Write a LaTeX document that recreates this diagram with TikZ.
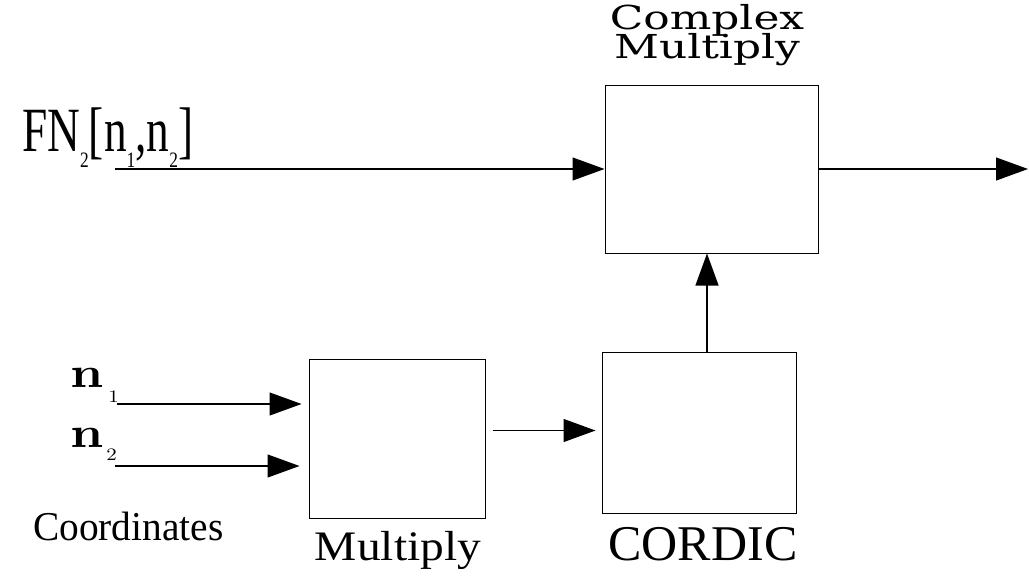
\documentclass[tikz,border=0pt]{standalone}
\usepackage[no-math]{fontspec}
\usepackage{graphicx}
\setmainfont{Liberation Serif}
\newfontfamily\blockfont{DejaVu Serif}
\usetikzlibrary{arrows.meta}
\newcommand{\lowidx}[1]{\raisebox{-16pt}{\scalebox{1.1}[1]{\fontsize{22}{22}\selectfont #1}}}
\newcommand{\nidx}[2]{\raisebox{#1}{\scalebox{2.1}[1.75]{$#2$}}}

\begin{document}
\begin{tikzpicture}[x=1pt,y=-1pt,
    blk/.style={draw, line width=1pt, inner sep=0pt},
    arr/.style={line width=1.2pt, -{Triangle[length=32pt,width=23pt]}},
    lab/.style={inner sep=0pt}]
  \useasboundingbox (0,0) rectangle (1029,584);

  % blocks
  \node[blk, minimum width=213pt, minimum height=168pt] (cplx) at (711.5,169) {};
  \node[blk, minimum width=176pt, minimum height=159pt] (mult) at (397,438.5) {};
  \node[blk, minimum width=194pt, minimum height=161pt] (cordic) at (699,432.5) {};

  % labels
  \node[lab, anchor=base, align=center, font={\blockfont\fontsize{33}{27}\selectfont}] (cplxlab) at (707,58)
    {\scalebox{1.33}[1]{Complex}\\[-4pt]\scalebox{1.33}[1]{Multiply}};
  \node[lab, anchor=base, font={\fontsize{42}{42}\selectfont}] (multlab) at (398,560) {\scalebox{1.13}[1]{Multiply}};
  \node[lab, anchor=base, font={\fontsize{50}{50}\selectfont}] (cordiclab) at (703,560) {CORDIC};
  \node[lab, anchor=base west, font={\fontsize{41}{41}\selectfont}] (coordlab) at (33,540) {\scalebox{0.96}[1]{Coordinates}};
  \node[lab, anchor=base west] (fnlab) at (22,151)
    {\scalebox{0.72}[1]{\fontsize{63}{63}\selectfont FN\lowidx{2}[n\lowidx{1},n\lowidx{2}]}};
  \node[lab, anchor=base west] (nalab) at (70,387) {\scalebox{5.2}[4.3]{$\mathbf{n}$}\hspace{5pt}\nidx{-15pt}{1}};
  \node[lab, anchor=base west] (nblab) at (70,447) {\scalebox{5.2}[4.3]{$\mathbf{n}$}\hspace{3pt}\nidx{-13pt}{2}};

  % connectors
  \coordinate (fnin) at (115,169);
  \coordinate (outp) at (1028,169);
  \coordinate (nain) at (117,404);
  \coordinate (nbin) at (115,466);
  \draw[arr] (fnin) -- (cplx.west);
  \draw[arr] (cplx.east) -- (outp);
  \draw[arr, shorten >=7pt] (nain) -- (nain -| mult.west);
  \draw[arr, shorten >=9pt] (nbin) -- (nbin -| mult.west);
  \draw[arr, shorten <=7pt, shorten >=6pt] ([yshift=2pt]mult.east |- cordic.west) -- ([yshift=2pt]cordic.west);
  %\draw[arr] (cordic.north) -- (cplx.south);
  \draw[arr] ([xshift=8pt]cordic.north) -- ([xshift=8pt]cordic.north |- cplx.south);
\end{tikzpicture}
\end{document}
